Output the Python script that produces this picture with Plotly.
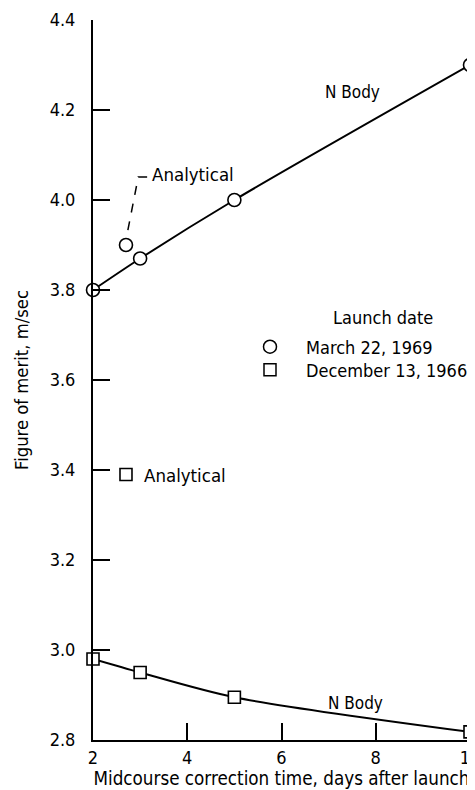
import plotly.graph_objects as go

# Data
x_days = [2, 3, 5, 10]
march_nbody = [3.80, 3.87, 4.00, 4.30]
dec_nbody = [2.98, 2.95, 2.895, 2.818]
analytical_x = [2.7]
march_analytical = [3.90]
dec_analytical = [3.39]
y_ticks = [2.8, 3.0, 3.2, 3.4, 3.6, 3.8, 4.0, 4.2, 4.4]
y_ticktext = ["2.8", "3.0", "3.2", "3.4", "3.6", "3.8", "4.0", "4.2", "4.4"]
x_ticks = [2, 4, 6, 8, 10]

FONT = "DejaVu Sans Condensed, DejaVu Sans, sans-serif"
BLACK = "black"

circ = dict(symbol="circle", size=13, color="white", line=dict(color=BLACK, width=1.6))
sq = dict(symbol="square", size=12, color="white", line=dict(color=BLACK, width=1.6))

fig = go.Figure()
fig.add_trace(go.Scatter(x=x_days, y=march_nbody, mode="lines+markers",
                         line=dict(color=BLACK, width=2, shape="spline", smoothing=0.8),
                         marker=circ, showlegend=False, cliponaxis=False))
fig.add_trace(go.Scatter(x=x_days, y=dec_nbody, mode="lines+markers",
                         line=dict(color=BLACK, width=2, shape="spline", smoothing=0.8),
                         marker=sq, showlegend=False, cliponaxis=False))
fig.add_trace(go.Scatter(x=analytical_x, y=march_analytical, mode="markers",
                         marker=circ, showlegend=False, cliponaxis=False))
fig.add_trace(go.Scatter(x=analytical_x, y=dec_analytical, mode="markers",
                         marker=sq, showlegend=False, cliponaxis=False))
# legend entries (one legend per row for exact placement)
fig.add_trace(go.Scatter(x=[None], y=[None], mode="markers", name="March 22, 1969",
                         legend="legend",
                         marker=dict(symbol="circle", size=13, color="white",
                                     line=dict(color=BLACK, width=1.5))))
fig.add_trace(go.Scatter(x=[None], y=[None], mode="markers", name="December 13, 1966",
                         legend="legend2",
                         marker=dict(symbol="square", size=12, color="white",
                                     line=dict(color=BLACK, width=1.5))))

# dashed leader for upper analytical label
fig.add_shape(type="path", path="M 2.74 3.933 L 2.96 4.051 L 3.17 4.051",
              line=dict(color=BLACK, width=1.5, dash="dash"), xref="x", yref="y")

ann_font = dict(family=FONT, size=18.5, color=BLACK)
nb_font = dict(family=FONT, size=17, color=BLACK)
fig.add_annotation(x=3.2, y=4.056, text="Analytical", showarrow=False,
                   xanchor="left", yanchor="middle", font=ann_font)
fig.add_annotation(x=3.05, y=3.387, text="Analytical", showarrow=False,
                   xanchor="left", yanchor="middle", font=ann_font)
fig.add_annotation(x=7.5, y=4.24, text="N Body", showarrow=False,
                   xanchor="center", yanchor="middle", font=nb_font)
fig.add_annotation(x=7.56, y=2.882, text="N Body", showarrow=False,
                   xanchor="center", yanchor="middle", font=nb_font)
fig.add_annotation(x=0.769, y=0.5875, xref="paper", yref="paper", text="Launch date",
                   showarrow=False, xanchor="center", yanchor="middle",
                   font=dict(family=FONT, size=18, color=BLACK))

leg_common = dict(xanchor="left", yanchor="middle", bgcolor="rgba(0,0,0,0)",
                  font=dict(family=FONT, size=18, color=BLACK), itemwidth=62)

fig.update_layout(
    width=467, height=782,
    margin=dict(l=85, r=5, t=12, b=50, autoexpand=False),
    paper_bgcolor="white", plot_bgcolor="white",
    font=dict(family=FONT, size=18, color=BLACK),
    showlegend=True,
    legend=dict(x=0.374, y=0.5458, **leg_common),
    legend2=dict(x=0.374, y=0.5139, **leg_common),
    xaxis=dict(
        range=[2, 10], tickvals=x_ticks, ticks="inside", ticklen=17, tickwidth=2,
        tickcolor=BLACK, showline=True, linecolor=BLACK, linewidth=2, automargin=False,
        showgrid=False, zeroline=False, tickfont=dict(family=FONT, size=18),
        ticklabeloverflow="allow",
        title=dict(text="Midcourse correction time, days after launch", standoff=4,
                   font=dict(family=FONT, size=18.7)),
    ),
    yaxis=dict(
        range=[2.8, 4.4], tickvals=y_ticks, ticktext=y_ticktext, ticks="inside",
        ticklen=17, tickwidth=2, tickcolor=BLACK, showline=True, linecolor=BLACK,
        linewidth=2, showgrid=False, zeroline=False, tickfont=dict(family=FONT, size=18),
        ticklabelstandoff=12, automargin=False, ticklabeloverflow="allow",
        title=dict(text="Figure of merit, m/sec", standoff=16,
                   font=dict(family=FONT, size=18.3)),
    ),
)

fig.write_html("out.html")
